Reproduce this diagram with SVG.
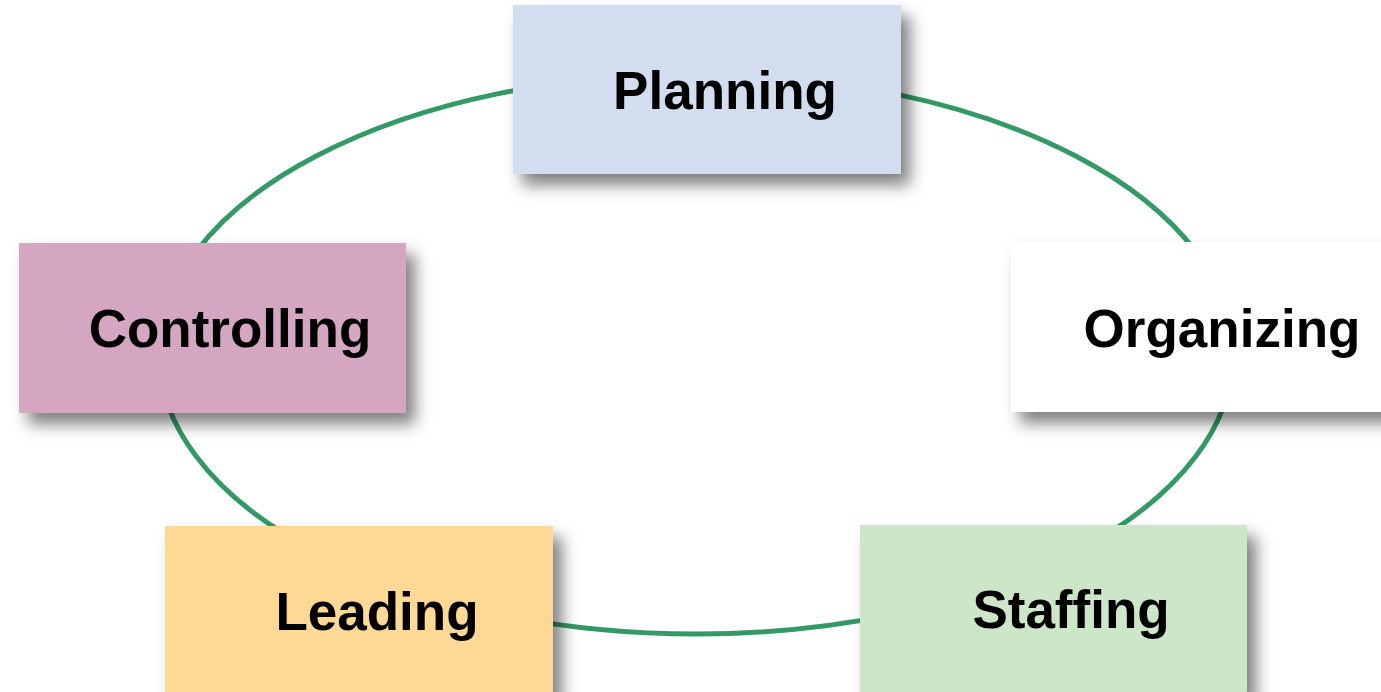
<svg xmlns="http://www.w3.org/2000/svg" width="1381" height="692" viewBox="0 0 1381 692">
<defs>
<filter id="sh" x="-15%" y="-20%" width="140%" height="160%">
<feDropShadow dx="9" dy="11" stdDeviation="8" flood-color="#000" flood-opacity="0.5"/>
</filter>
<style>
.box{filter:url(#sh);}
.lbl{font-family:"Liberation Sans",Arial,sans-serif;font-weight:bold;font-size:53px;fill:#000;text-anchor:middle;}
</style>
</defs>
<rect width="1381" height="692" fill="#fff"/>
<g id="connectors">
<ellipse cx="696" cy="354" rx="537" ry="280" fill="none" stroke="#339966" stroke-width="5"/>
</g>
<g id="planning">
<rect class="box" x="513" y="5" width="388" height="169" fill="#d2ddf0"/>
<text class="lbl" x="725" y="109">Planning</text>
</g>
<g id="organizing">
<rect class="box" x="1011" y="242" width="388" height="170" fill="#ffffff"/>
<text class="lbl" x="1222" y="347">Organizing</text>
</g>
<g id="staffing">
<rect class="box" x="860" y="525" width="387" height="170" fill="#cde6c8"/>
<text class="lbl" x="1071" y="628">Staffing</text>
</g>
<g id="leading">
<rect class="box" x="165" y="526" width="388" height="170" fill="#fdd995"/>
<text class="lbl" x="377" y="630">Leading</text>
</g>
<g id="controlling">
<rect class="box" x="19" y="243" width="387" height="170" fill="#d4a6c2"/>
<text class="lbl" x="230" y="347">Controlling</text>
</g>
</svg>
